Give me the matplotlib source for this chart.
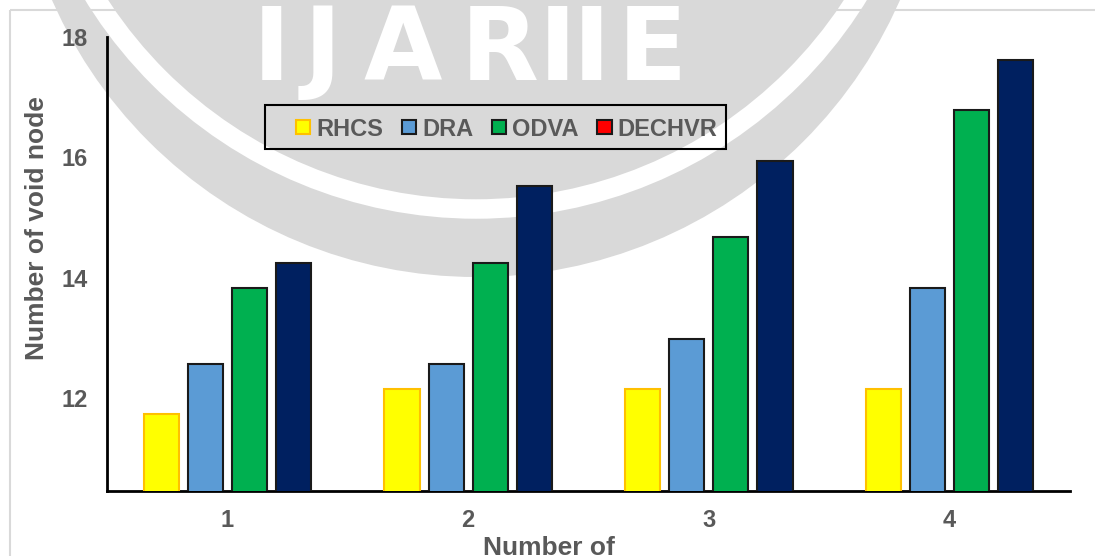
import matplotlib
matplotlib.use("Agg")
import matplotlib.pyplot as plt
from matplotlib.patches import Circle, Rectangle, Patch
import numpy as np

categories = ["1", "2", "3", "4"]
series_names = ["RHCS", "DRA", "ODVA", "DECHVR"]
rhcs = [11.73, 12.15, 12.15, 12.15]
dra = [12.56, 12.56, 12.98, 13.83]
odva = [13.83, 14.24, 14.67, 16.78]
dechvr = [14.24, 15.52, 15.93, 17.61]
y_ticks = [12, 14, 16, 18]

fill_colors = ["#FFFF00", "#5B9BD5", "#00B050", "#002060"]
edge_colors = ["#FFC000", "#1a1a1a", "#1a1a1a", "#1a1a1a"]
legend_colors = ["#FFFF00", "#5B9BD5", "#00B050", "#FF0000"]
legend_edges = ["#FFC000", "#1a1a1a", "#1a1a1a", "#1a1a1a"]
txt_gray = "#595959"
wm_gray = "#d9d9d9"

plt.rcParams['font.family'] = ['Liberation Sans', 'DejaVu Sans']

W, H = 1095, 556
fig = plt.figure(figsize=(W / 100, H / 100), dpi=100)

# background layer (watermark and outer frame) in pixel coords
bg = fig.add_axes([0, 0, 1, 1], zorder=0)
bg.set_xlim(0, W)
bg.set_ylim(H, 0)
bg.axis("off")
bg.add_patch(Circle((476, -186), 463, facecolor=wm_gray, edgecolor="none"))
bg.add_patch(Circle((476, -240), 449, facecolor="none", edgecolor="white", linewidth=14))
wm_letters = ["I", "J", "A", "R", "I", "I", "E"]
wm_x = [272, 323, 403, 500, 558, 592, 652]
for ch, xc in zip(wm_letters, wm_x):
    bg.text(xc, 80, ch, color="white", fontsize=73, fontweight="bold",
            family="DejaVu Sans", ha="center", va="baseline")
bg.add_patch(Rectangle((10, 10), 1300, 700, facecolor="none", edgecolor=wm_gray, linewidth=1.5))

ax = fig.add_axes([107 / W, 1 - 491 / H, (1070 - 107) / W, (491 - 37) / H], zorder=1)
ax.set_facecolor("none")

x = np.arange(1, len(categories) + 1)
width = 0.146
step = 0.183
data = [rhcs, dra, odva, dechvr]
for i, vals in enumerate(data):
    off = (i - 1.5) * step
    ax.bar(x + off, vals, width=width, bottom=0, color=fill_colors[i],
           edgecolor=edge_colors[i], linewidth=1.5, zorder=3)

ax.set_xlim(0.5, 4.5)
ax.set_ylim(10.45, 18)
ax.set_yticks(y_ticks)
ax.set_xticks(x)
ax.set_xticklabels(categories)
ax.tick_params(axis="both", length=0, labelsize=17, colors=txt_gray)
for lab in ax.get_xticklabels() + ax.get_yticklabels():
    lab.set_fontweight("bold")
ax.tick_params(axis="x", pad=13)
ax.tick_params(axis="y", pad=14)
for s in ["top", "right"]:
    ax.spines[s].set_visible(False)
for s in ["left", "bottom"]:
    ax.spines[s].set_color("black")
    ax.spines[s].set_linewidth(2)

ax.set_ylabel("Number of void node", fontsize=19, fontweight="bold", color=txt_gray)
ax.yaxis.label.set_va("center")
ax.yaxis.set_label_coords((37 - 107) / 963, (491 - 228) / 454)
ax.set_xlabel("Number of", fontsize=19, fontweight="bold", color=txt_gray)
ax.xaxis.label.set_va("top")
ax.xaxis.set_label_coords((549 - 107) / 963, -(536 - 491) / 454)

# legend frame (Excel-style box) and entries
bg.add_patch(Rectangle((265, 105), 461, 44, facecolor="none", edgecolor="black",
                       linewidth=1.5, zorder=5))
handles = [Patch(facecolor=legend_colors[i], edgecolor=legend_edges[i], linewidth=1.5)
           for i in range(4)]
leg = ax.legend(handles, series_names, loc="center left",
                bbox_to_anchor=(296, 129), bbox_transform=bg.transData,
                ncol=4, frameon=False, handlelength=0.6, handleheight=0.55,
                handletextpad=0.25, columnspacing=0.8, borderpad=0, borderaxespad=0,
                prop={"size": 17, "weight": "bold"})
for t in leg.get_texts():
    t.set_color(txt_gray)

fig.savefig("out.png", dpi=100)
